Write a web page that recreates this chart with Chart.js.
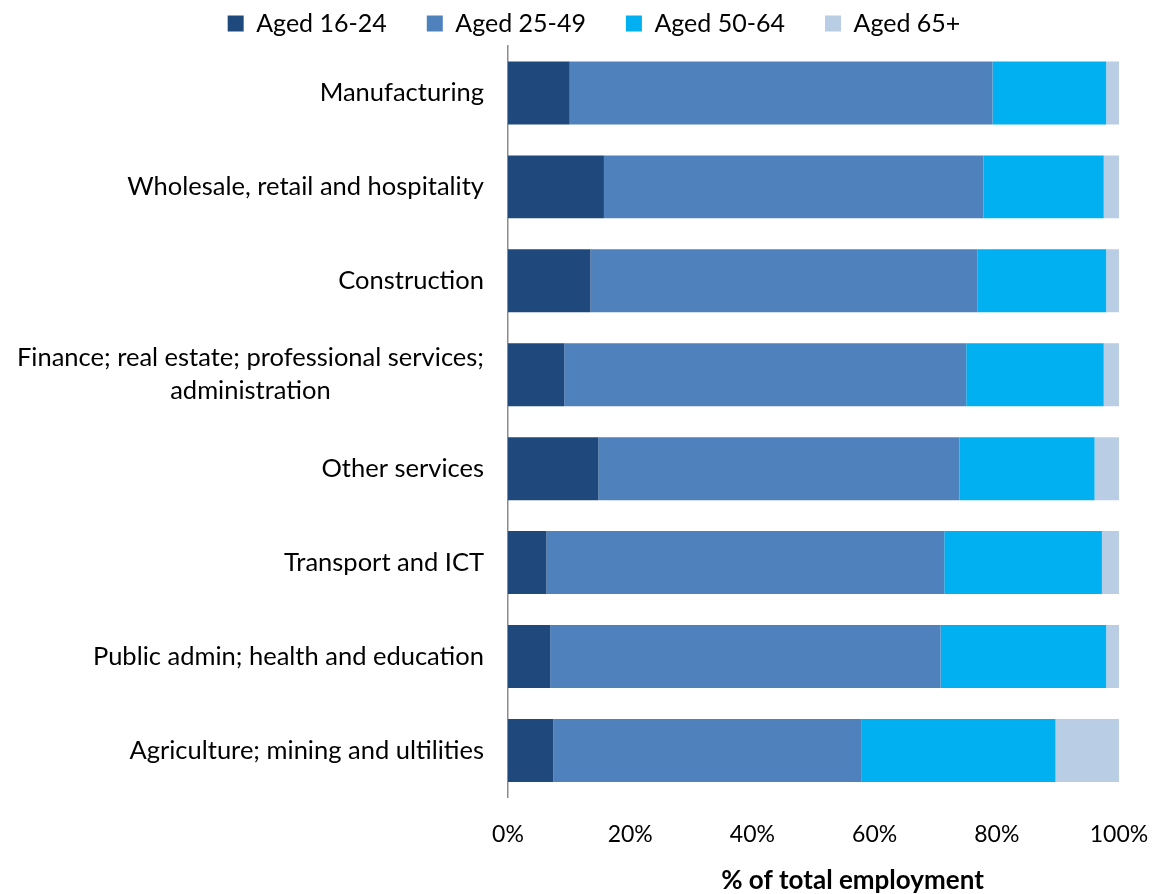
<!DOCTYPE html>
<html>
<head>
<meta charset="utf-8">
<script src="https://cdn.jsdelivr.net/npm/chart.js@4.4.1/dist/chart.umd.min.js"></script>
<style>
  html, body { margin: 0; padding: 0; background: #fff; }
  #wrap { width: 1153px; height: 894px; }
</style>
</head>
<body>
<div id="wrap"><canvas id="chart" width="1153" height="894"></canvas></div>
<script>
// data
const sectors = [
    'Manufacturing',
    'Wholesale, retail and hospitality',
    'Construction',
    ['Finance; real estate; professional services;', 'administration'],
    'Other services',
    'Transport and ICT',
    'Public admin; health and education',
    'Agriculture; mining and ultilities'
];
const aged16to24 = [10.1, 15.7, 13.5, 9.2, 14.8, 6.3, 6.9, 7.4];
const aged25to49 = [69.2, 62.1, 63.3, 65.8, 59.1, 65.1, 63.9, 50.5];
const aged50to64 = [18.6, 19.7, 21.1, 22.5, 22.1, 25.8, 27.1, 31.7];
const aged65plus = [2.1, 2.5, 2.1, 2.5, 4.0, 2.8, 2.1, 10.4];
const xTicks = [0, 20, 40, 60, 80, 100];

const FONT = 'Lato, "Open Sans", sans-serif';
Chart.defaults.font.family = FONT;
Chart.defaults.font.size = 23;
Chart.defaults.color = '#000';

// draws the category labels (Excel style: multi-line labels centred on their widest line)
const categoryLabels = {
    id: 'categoryLabels',
    afterDraw(chart) {
        const ctx = chart.ctx;
        const y = chart.scales.y;
        const right = chart.chartArea.left - 24;
        const lineH = 33;
        ctx.save();
        ctx.font = '25.5px ' + FONT;
        ctx.fillStyle = '#000';
        ctx.textBaseline = 'middle';
        sectors.forEach((lab, i) => {
            const py = y.getPixelForTick(i);
            const lines = Array.isArray(lab) ? lab : [lab];
            const w = Math.max(...lines.map(l => ctx.measureText(l).width));
            const top = py - (lines.length - 1) * lineH / 2;
            lines.forEach((l, j) => {
                if (lines.length === 1) {
                    ctx.textAlign = 'right';
                    ctx.fillText(l, right, top);
                } else {
                    ctx.textAlign = 'center';
                    ctx.fillText(l, right - w / 2, top + j * lineH);
                }
            });
        });
        // axis title
        const a = chart.chartArea;
        ctx.font = 'bold 26px ' + FONT;
        ctx.textAlign = 'center';
        ctx.fillText('% of total employment', (a.left + a.right) / 2 + 39, 881);
        ctx.restore();
    }
};

new Chart(document.getElementById('chart'), {
    type: 'bar',
    data: {
        labels: sectors,
        datasets: [
            { label: 'Aged 16-24', data: aged16to24, backgroundColor: '#1F497D' },
            { label: 'Aged 25-49', data: aged25to49, backgroundColor: '#4F81BD' },
            { label: 'Aged 50-64', data: aged50to64, backgroundColor: '#00B0F0' },
            { label: 'Aged 65+', data: aged65plus, backgroundColor: '#B9CDE5' }
        ]
    },
    options: {
        indexAxis: 'y',
        responsive: false,
        animation: false,
        barPercentage: 0.67,
        categoryPercentage: 1,
        layout: { padding: { left: 35, right: 0, top: -29, bottom: 23 } },
        plugins: {
            legend: {
                position: 'top',
                labels: { boxWidth: 16, boxHeight: 16, padding: 40, font: { size: 25 } }
            },
            tooltip: { enabled: false }
        },
        scales: {
            x: {
                stacked: true,
                min: 0,
                max: 100,
                afterBuildTicks(scale) { scale.ticks = xTicks.map(v => ({ value: v })); },
                afterFit(scale) { scale.paddingLeft = 0; scale.paddingRight = 34; },
                ticks: { callback: v => v + '%', padding: 23, maxRotation: 0 },
                grid: { display: false, drawTicks: false },
                border: { display: false }
            },
            y: {
                stacked: true,
                ticks: { display: false },
                afterFit(scale) { scale.width = 473; },
                grid: { display: false, drawTicks: false },
                border: { display: true, color: '#8c8c8c', width: 1.5 }
            }
        }
    },
    plugins: [categoryLabels]
});
</script>
</body>
</html>
